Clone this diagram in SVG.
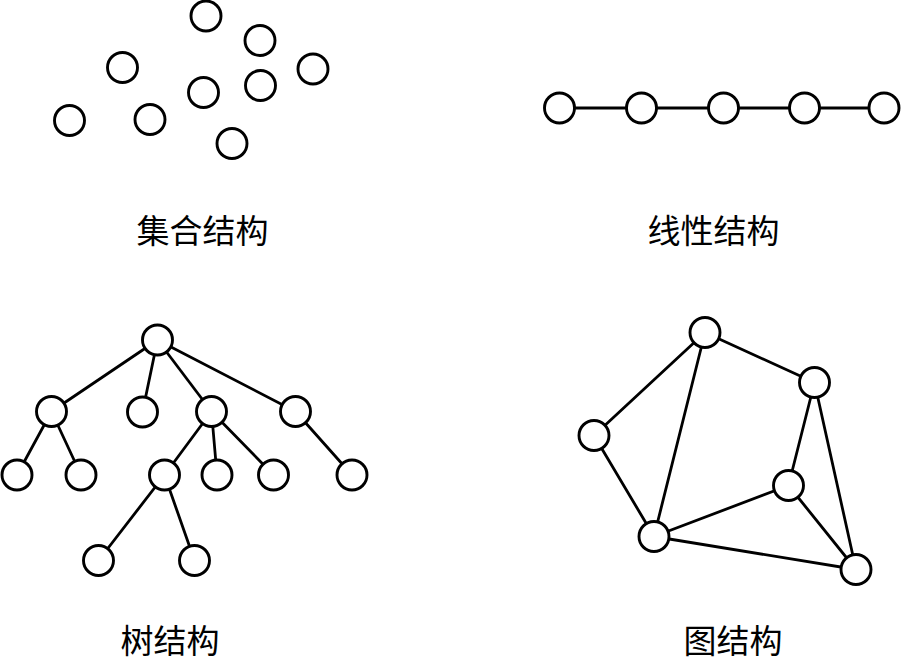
<svg xmlns="http://www.w3.org/2000/svg" width="902" height="663" viewBox="0 0 902 663">
  <style>
    .node { fill: #ffffff; stroke: #000000; stroke-width: 2.9; }
    .edge { stroke: #000000; stroke-width: 2.8; fill: none; stroke-linecap: round; }
    .label { font-family: "Noto Sans CJK SC", "Noto Sans", sans-serif; font-size: 33px; fill: #000000; text-anchor: middle; }
  </style>
  <rect width="902" height="663" fill="#ffffff"/>

  <!-- Set structure: unconnected elements -->
  <g id="set">
    <g id="set-n1"><circle class="node" cx="206" cy="16" r="15"/></g>
    <g id="set-n2"><circle class="node" cx="260" cy="40.5" r="15"/></g>
    <g id="set-n3"><circle class="node" cx="122.5" cy="67.5" r="15"/></g>
    <g id="set-n4"><circle class="node" cx="313" cy="69" r="15"/></g>
    <g id="set-n5"><circle class="node" cx="203.5" cy="92.5" r="15"/></g>
    <g id="set-n6"><circle class="node" cx="260.5" cy="85.5" r="15"/></g>
    <g id="set-n7"><circle class="node" cx="69.5" cy="120.5" r="15"/></g>
    <g id="set-n8"><circle class="node" cx="150" cy="119.5" r="15"/></g>
    <g id="set-n9"><circle class="node" cx="232" cy="143.5" r="15"/></g>
    <text class="label" x="202.5" y="243">集合结构</text>
  </g>

  <!-- Linear structure -->
  <g id="linear">
    <g id="linear-edges">
      <line class="edge" x1="559.5" y1="108" x2="884" y2="108"/>
    </g>
    <g id="lin-n1"><circle class="node" cx="559.5" cy="108" r="15"/></g>
    <g id="lin-n2"><circle class="node" cx="641.5" cy="108" r="15"/></g>
    <g id="lin-n3"><circle class="node" cx="723.5" cy="108" r="15"/></g>
    <g id="lin-n4"><circle class="node" cx="804.5" cy="108" r="15"/></g>
    <g id="lin-n5"><circle class="node" cx="884" cy="108" r="15"/></g>
    <text class="label" x="713.5" y="243">线性结构</text>
  </g>

  <!-- Tree structure -->
  <g id="tree">
    <g id="tree-edges">
      <line class="edge" x1="157.5" y1="340" x2="51.5" y2="411.5"/>
      <line class="edge" x1="157.5" y1="340" x2="142.5" y2="412"/>
      <line class="edge" x1="157.5" y1="340" x2="211.5" y2="411.5"/>
      <line class="edge" x1="157.5" y1="340" x2="295.5" y2="411.5"/>
      <line class="edge" x1="51.5" y1="411.5" x2="17" y2="475"/>
      <line class="edge" x1="51.5" y1="411.5" x2="81" y2="475"/>
      <line class="edge" x1="211.5" y1="411.5" x2="164.5" y2="475"/>
      <line class="edge" x1="211.5" y1="411.5" x2="217" y2="475"/>
      <line class="edge" x1="211.5" y1="411.5" x2="273.5" y2="475"/>
      <line class="edge" x1="295.5" y1="411.5" x2="352" y2="475"/>
      <line class="edge" x1="164.5" y1="475" x2="98.5" y2="560.5"/>
      <line class="edge" x1="164.5" y1="475" x2="194.5" y2="560.5"/>
    </g>
    <g id="tree-root"><circle class="node" cx="157.5" cy="340" r="15"/></g>
    <g id="tree-a"><circle class="node" cx="51.5" cy="411.5" r="15"/></g>
    <g id="tree-b"><circle class="node" cx="142.5" cy="412" r="15"/></g>
    <g id="tree-c"><circle class="node" cx="211.5" cy="411.5" r="15"/></g>
    <g id="tree-d"><circle class="node" cx="295.5" cy="411.5" r="15"/></g>
    <g id="tree-a1"><circle class="node" cx="17" cy="475" r="15"/></g>
    <g id="tree-a2"><circle class="node" cx="81" cy="475" r="15"/></g>
    <g id="tree-c1"><circle class="node" cx="164.5" cy="475" r="15"/></g>
    <g id="tree-c2"><circle class="node" cx="217" cy="475" r="15"/></g>
    <g id="tree-c3"><circle class="node" cx="273.5" cy="475" r="15"/></g>
    <g id="tree-d1"><circle class="node" cx="352" cy="475" r="15"/></g>
    <g id="tree-c1a"><circle class="node" cx="98.5" cy="560.5" r="15"/></g>
    <g id="tree-c1b"><circle class="node" cx="194.5" cy="560.5" r="15"/></g>
    <text class="label" x="170" y="653">树结构</text>
  </g>

  <!-- Graph structure -->
  <g id="graph">
    <g id="graph-edges">
      <line class="edge" x1="705" y1="332.5" x2="814.5" y2="382.5"/>
      <line class="edge" x1="705" y1="332.5" x2="594" y2="435.5"/>
      <line class="edge" x1="705" y1="332.5" x2="654" y2="536.5"/>
      <line class="edge" x1="814.5" y1="382.5" x2="788.5" y2="485.5"/>
      <line class="edge" x1="814.5" y1="382.5" x2="856" y2="569.5"/>
      <line class="edge" x1="594" y1="435.5" x2="654" y2="536.5"/>
      <line class="edge" x1="788.5" y1="485.5" x2="654" y2="536.5"/>
      <line class="edge" x1="788.5" y1="485.5" x2="856" y2="569.5"/>
      <line class="edge" x1="654" y1="536.5" x2="856" y2="569.5"/>
    </g>
    <g id="graph-a"><circle class="node" cx="705" cy="332.5" r="15"/></g>
    <g id="graph-b"><circle class="node" cx="814.5" cy="382.5" r="15"/></g>
    <g id="graph-c"><circle class="node" cx="594" cy="435.5" r="15"/></g>
    <g id="graph-d"><circle class="node" cx="788.5" cy="485.5" r="15"/></g>
    <g id="graph-e"><circle class="node" cx="654" cy="536.5" r="15"/></g>
    <g id="graph-f"><circle class="node" cx="856" cy="569.5" r="15"/></g>
    <text class="label" x="733" y="653">图结构</text>
  </g>
</svg>
